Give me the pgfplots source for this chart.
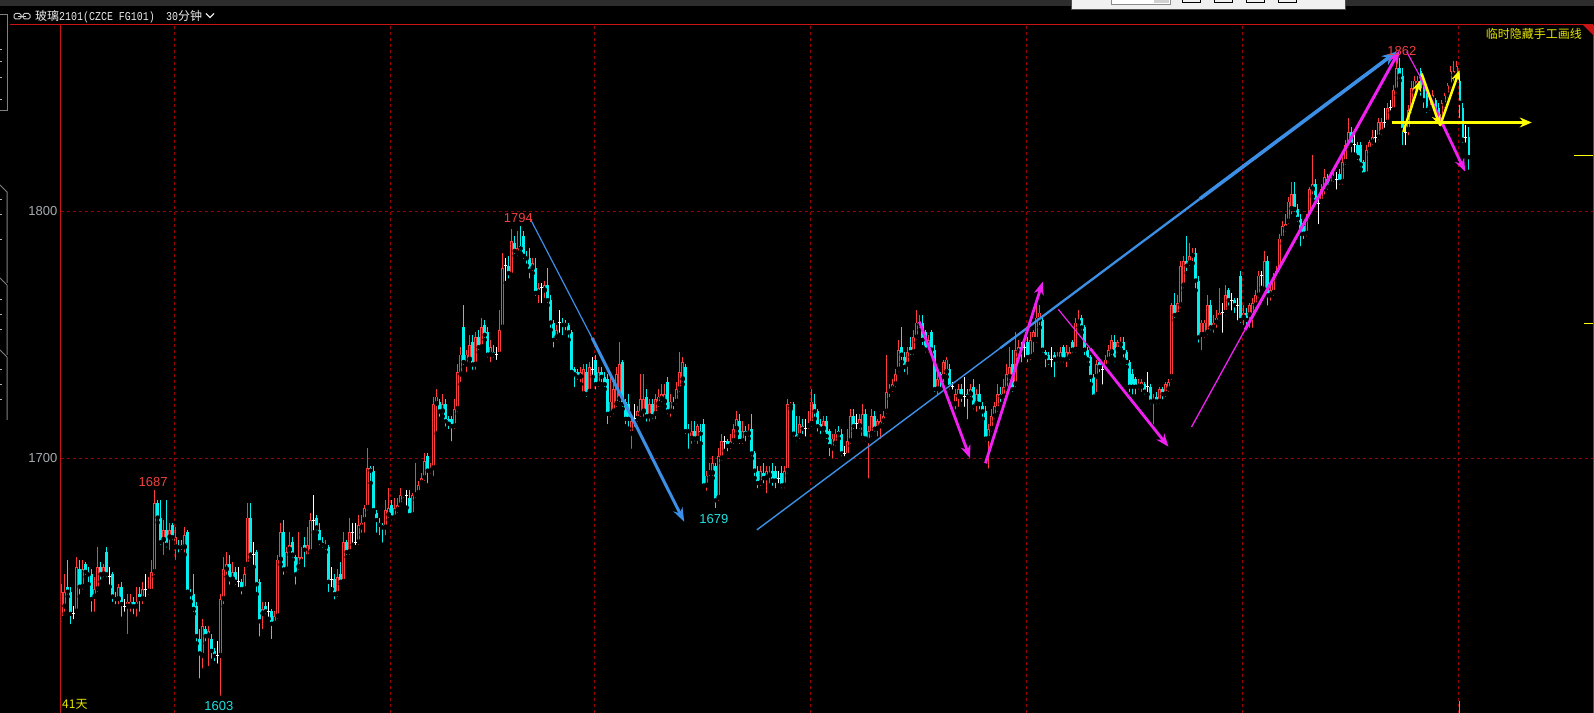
\documentclass[border=0pt]{standalone}
\usepackage{pgfplots}
\usepackage{pgfplotstable}
\pgfplotsset{compat=1.18}
\usetikzlibrary{arrows.meta}
\usepackage{fontspec}
\setmainfont{Liberation Sans}
\newfontfamily\cjk{Noto Sans CJK SC}
\newfontfamily\mono[FakeStretch=0.83]{Liberation Mono}

\definecolor{cred}{HTML}{FF3B3B}
\definecolor{ccyan}{HTML}{00F0F0}
\definecolor{gridred}{HTML}{A00000}
\definecolor{framered}{HTML}{C81414}
\definecolor{lblred}{HTML}{F04040}
\definecolor{lblcyan}{HTML}{20E0E0}
\definecolor{ablue}{HTML}{3C8FE6}
\definecolor{amag}{HTML}{F020F0}
\definecolor{ayel}{HTML}{FFFF00}
\definecolor{txtyel}{HTML}{E8E800}
\definecolor{tickgray}{HTML}{A8ACB0}
\definecolor{topgray}{HTML}{2D2D2D}

% 30-minute bars: index, open, high, low, close
\pgfplotstableread{
i o h l c
0 1635 1649 1633 1646
1 1640 1653 1637 1646
2 1648 1659 1644 1646
3 1646 1648 1632 1637
4 1637 1640 1634 1637
5 1638 1660 1637 1656
6 1655 1659 1644 1648
7 1648 1659 1646 1655
8 1657 1658 1652 1654
9 1654 1656 1649 1653
10 1653 1655 1637 1643
11 1644 1652 1637 1647
12 1647 1664 1645 1656
13 1656 1658 1650 1653
14 1653 1657 1651 1656
15 1662 1664 1651 1653
16 1652 1656 1648 1652
17 1653 1654 1641 1644
18 1644 1646 1640 1643
19 1643 1649 1640 1648
20 1648 1650 1635 1641
21 1640 1643 1637 1640
22 1640 1645 1628 1642
23 1640 1645 1637 1642
24 1642 1644 1636 1640
25 1640 1648 1635 1642
26 1645 1648 1637 1643
27 1643 1650 1640 1647
28 1647 1653 1643 1647
29 1646 1652 1644 1647
30 1646 1659 1645 1654
31 1654 1687 1652 1682
32 1682 1683 1674 1676
33 1676 1683 1664 1666
34 1667 1675 1660 1671
35 1671 1683 1663 1665
36 1668 1674 1662 1671
37 1673 1674 1666 1668
38 1664 1672 1658 1668
39 1665 1667 1661 1664
40 1665 1667 1662 1664
41 1664 1672 1661 1669
42 1670 1671 1645 1646
43 1646 1647 1642 1645
44 1645 1653 1637 1639
45 1640 1642 1625 1628
46 1627 1631 1610 1621
47 1620 1635 1614 1632
48 1631 1632 1625 1628
49 1628 1632 1615 1630
50 1627 1629 1618 1622
51 1622 1623 1617 1620
52 1620 1626 1616 1620
53 1620 1645 1603 1643
54 1643 1660 1640 1655
55 1655 1662 1652 1657
56 1657 1661 1648 1651
57 1651 1658 1650 1654
58 1654 1656 1648 1650
59 1650 1656 1647 1650
60 1650 1651 1644 1647
61 1647 1656 1646 1653
62 1657 1682 1655 1676
63 1676 1682 1659 1661
64 1661 1666 1656 1661
65 1662 1663 1645 1649
66 1650 1651 1627 1634
67 1637 1642 1630 1639
68 1640 1642 1636 1638
69 1638 1642 1635 1638
70 1638 1639 1626 1633
71 1633 1638 1632 1636
72 1636 1661 1634 1659
73 1659 1674 1657 1670
74 1670 1675 1652 1655
75 1655 1664 1653 1662
76 1663 1670 1661 1665
77 1666 1668 1659 1661
78 1660 1661 1648 1653
79 1656 1670 1654 1660
80 1658 1664 1657 1660
81 1665 1668 1655 1663
82 1660 1672 1659 1665
83 1662 1678 1661 1675
84 1675 1685 1670 1675
85 1676 1677 1670 1672
86 1671 1674 1664 1666
87 1666 1668 1663 1665
88 1664 1667 1662 1665
89 1664 1665 1645 1650
90 1651 1656 1647 1651
91 1651 1653 1642 1645
92 1645 1655 1643 1652
93 1653 1658 1649 1650
94 1650 1670 1649 1666
95 1666 1667 1660 1662
96 1662 1676 1660 1670
97 1670 1674 1665 1670
98 1666 1674 1664 1666
99 1666 1677 1664 1673
100 1672 1677 1669 1674
101 1675 1681 1669 1680
102 1680 1704 1678 1696
103 1696 1697 1690 1695
104 1695 1697 1678 1679
105 1678 1679 1669 1675
106 1674 1676 1668 1673
107 1673 1674 1665 1672
108 1672 1683 1668 1679
109 1677 1688 1675 1680
110 1681 1683 1674 1676
111 1676 1684 1674 1680
112 1679 1684 1677 1681
113 1681 1688 1680 1685
114 1685 1686 1683 1686
115 1685 1687 1680 1685
116 1684 1687 1676 1677
117 1677 1686 1676 1685
118 1685 1698 1683 1686
119 1686 1691 1685 1689
120 1690 1694 1689 1692
121 1692 1702 1690 1699
122 1701 1702 1689 1695
123 1695 1698 1693 1696
124 1696 1725 1692 1722
125 1722 1728 1710 1725
126 1723 1724 1716 1719
127 1719 1726 1717 1722
128 1722 1724 1712 1715
129 1716 1717 1711 1714
130 1716 1717 1706 1713
131 1713 1724 1711 1720
132 1720 1738 1718 1735
133 1734 1745 1730 1742
134 1753 1762 1737 1739
135 1738 1744 1734 1742
136 1740 1750 1738 1746
137 1747 1750 1735 1738
138 1738 1751 1735 1749
139 1749 1752 1743 1745
140 1745 1757 1744 1753
141 1754 1756 1748 1750
142 1751 1753 1740 1742
143 1742 1748 1738 1745
144 1743 1746 1740 1742
145 1742 1745 1739 1742
146 1742 1760 1741 1752
147 1753 1783 1752 1777
148 1778 1781 1771 1778
149 1778 1782 1772 1775
150 1774 1793 1773 1788
151 1787 1790 1782 1784
152 1783 1792 1781 1785
153 1786 1794 1783 1785
154 1790 1792 1780 1782
155 1782 1784 1778 1781
156 1781 1785 1772 1776
157 1777 1781 1775 1779
158 1777 1781 1765 1767
159 1767 1771 1762 1769
160 1769 1771 1762 1769
161 1768 1772 1764 1770
162 1770 1777 1762 1764
163 1764 1766 1752 1755
164 1755 1756 1744 1748
165 1749 1754 1747 1752
166 1755 1760 1750 1755
167 1755 1757 1749 1754
168 1755 1756 1751 1754
169 1754 1755 1748 1751
170 1751 1752 1734 1735
171 1736 1737 1728 1734
172 1735 1736 1731 1733
173 1733 1737 1730 1735
174 1726 1738 1725 1736
175 1735 1738 1724 1726
176 1727 1739 1726 1737
177 1736 1741 1733 1736
178 1740 1742 1727 1730
179 1730 1737 1728 1735
180 1735 1737 1730 1733
181 1733 1735 1728 1730
182 1732 1734 1713 1718
183 1718 1733 1716 1723
184 1719 1731 1717 1728
185 1722 1737 1720 1734
186 1724 1747 1722 1738
187 1739 1740 1720 1722
188 1723 1724 1713 1716
189 1722 1726 1712 1716
190 1710 1717 1703 1715
191 1716 1722 1712 1716
192 1716 1721 1714 1719
193 1718 1734 1716 1724
194 1719 1734 1716 1724
195 1725 1728 1714 1717
196 1717 1724 1714 1722
197 1722 1724 1715 1717
198 1718 1726 1715 1724
199 1722 1728 1720 1725
200 1724 1730 1722 1726
201 1723 1730 1721 1726
202 1731 1733 1717 1719
203 1719 1726 1716 1723
204 1723 1725 1719 1722
205 1723 1731 1721 1728
206 1728 1743 1726 1735
207 1732 1741 1730 1739
208 1737 1738 1709 1711
209 1712 1714 1703 1711
210 1708 1715 1705 1711
211 1711 1715 1706 1708
212 1708 1714 1705 1713
213 1711 1714 1706 1710
214 1714 1716 1688 1689
215 1689 1695 1686 1693
216 1694 1698 1692 1695
217 1694 1701 1692 1698
218 1697 1698 1679 1683
219 1684 1704 1682 1701
220 1700 1710 1698 1707
221 1707 1709 1703 1707
222 1707 1708 1702 1705
223 1705 1710 1703 1707
224 1707 1714 1705 1712
225 1712 1719 1710 1716
226 1715 1718 1705 1707
227 1707 1715 1705 1711
228 1711 1713 1706 1710
229 1710 1714 1708 1711
230 1712 1718 1700 1702
231 1702 1703 1692 1695
232 1695 1697 1687 1690
233 1690 1697 1688 1695
234 1694 1698 1689 1692
235 1692 1697 1685 1695
236 1693 1697 1689 1694
237 1695 1698 1688 1691
238 1695 1697 1687 1691
239 1692 1695 1689 1692
240 1694 1697 1687 1689
241 1689 1697 1687 1695
242 1695 1724 1693 1722
243 1721 1723 1720 1722
244 1722 1723 1708 1710
245 1710 1717 1706 1708
246 1709 1717 1707 1714
247 1713 1716 1709 1712
248 1712 1716 1708 1712
249 1713 1719 1711 1714
250 1714 1728 1712 1723
251 1722 1726 1716 1719
252 1719 1720 1710 1713
253 1714 1716 1709 1712
254 1712 1717 1710 1715
255 1715 1717 1707 1709
256 1711 1712 1700 1705
257 1704 1710 1699 1708
258 1706 1712 1704 1710
259 1711 1713 1708 1710
260 1710 1712 1700 1702
261 1702 1705 1700 1702
262 1701 1712 1700 1707
263 1707 1720 1705 1717
264 1717 1720 1711 1713
265 1714 1718 1711 1714
266 1713 1718 1711 1716
267 1708 1722 1706 1718
268 1718 1720 1706 1708
269 1707 1713 1691 1711
270 1710 1720 1708 1717
271 1717 1719 1710 1712
272 1712 1716 1708 1715
273 1713 1718 1707 1715
274 1715 1719 1713 1717
275 1719 1742 1717 1727
276 1727 1730 1724 1728
277 1728 1732 1726 1730
278 1730 1736 1728 1734
279 1736 1748 1734 1744
280 1745 1753 1739 1742
281 1741 1743 1734 1737
282 1738 1745 1733 1743
283 1745 1749 1741 1743
284 1743 1752 1741 1749
285 1749 1760 1747 1755
286 1754 1758 1752 1755
287 1755 1758 1745 1748
288 1751 1752 1742 1744
289 1744 1750 1742 1748
290 1751 1752 1742 1744
291 1744 1746 1726 1728
292 1728 1734 1725 1732
293 1734 1735 1728 1732
294 1733 1740 1730 1739
295 1735 1741 1733 1740
296 1736 1738 1727 1729
297 1729 1731 1727 1729
298 1722 1728 1719 1726
299 1725 1730 1720 1728
300 1728 1730 1722 1725
301 1725 1733 1720 1725
302 1726 1728 1715 1725
303 1726 1730 1724 1728
304 1729 1732 1719 1721
305 1722 1728 1718 1726
306 1726 1730 1719 1722
307 1721 1723 1716 1719
308 1719 1721 1706 1708
309 1708 1714 1695 1712
310 1712 1720 1710 1717
311 1717 1723 1715 1721
312 1720 1730 1718 1726
313 1726 1729 1722 1725
314 1725 1732 1723 1729
315 1728 1738 1726 1734
316 1733 1745 1731 1737
317 1738 1744 1726 1728
318 1730 1751 1728 1744
319 1743 1748 1741 1745
320 1745 1747 1738 1743
321 1745 1748 1740 1745
322 1747 1749 1738 1741
323 1741 1751 1739 1748
324 1748 1752 1742 1751
325 1748 1763 1746 1757
326 1756 1762 1753 1759
327 1756 1758 1742 1744
328 1743 1744 1736 1741
329 1742 1743 1737 1739
330 1740 1745 1736 1740
331 1742 1743 1732 1740
332 1740 1743 1738 1741
333 1740 1745 1738 1743
334 1745 1746 1738 1740
335 1740 1746 1736 1743
336 1741 1745 1739 1743
337 1747 1748 1742 1744
338 1744 1757 1742 1755
339 1755 1760 1753 1756
340 1757 1758 1751 1753
341 1753 1754 1741 1744
342 1744 1745 1738 1740
343 1741 1742 1730 1733
344 1733 1734 1724 1725
345 1733 1740 1726 1738
346 1739 1740 1734 1737
347 1736 1738 1729 1736
348 1737 1742 1735 1740
349 1740 1746 1738 1744
350 1743 1750 1741 1748
351 1747 1750 1738 1740
352 1744 1748 1742 1747
353 1746 1749 1744 1747
354 1747 1749 1740 1743
355 1743 1744 1737 1739
356 1739 1740 1726 1729
357 1734 1736 1725 1729
358 1732 1733 1725 1729
359 1729 1732 1727 1730
360 1729 1732 1726 1731
361 1730 1731 1725 1727
362 1729 1735 1726 1729
363 1729 1730 1721 1723
364 1723 1726 1713 1724
365 1725 1727 1721 1723
366 1723 1729 1721 1728
367 1728 1729 1723 1726
368 1726 1731 1724 1730
369 1728 1732 1726 1731
370 1733 1763 1731 1762
371 1762 1767 1756 1758
372 1758 1766 1757 1763
373 1762 1780 1760 1778
374 1770 1782 1768 1780
375 1780 1790 1775 1778
376 1779 1787 1777 1782
377 1782 1785 1779 1783
378 1783 1785 1768 1772
379 1772 1774 1746 1749
380 1750 1756 1743 1755
381 1750 1756 1748 1755
382 1751 1766 1749 1762
383 1762 1764 1751 1753
384 1753 1758 1750 1755
385 1755 1760 1752 1757
386 1757 1769 1755 1759
387 1759 1763 1750 1759
388 1759 1770 1757 1766
389 1768 1769 1761 1764
390 1764 1767 1759 1764
391 1764 1765 1758 1762
392 1762 1765 1755 1762
393 1774 1776 1754 1756
394 1757 1762 1753 1759
395 1759 1761 1753 1756
396 1758 1763 1752 1762
397 1757 1765 1752 1763
398 1762 1768 1760 1766
399 1766 1776 1764 1774
400 1774 1776 1769 1774
401 1768 1784 1767 1780
402 1780 1782 1761 1766
403 1766 1770 1763 1768
404 1767 1775 1765 1773
405 1774 1778 1772 1776
406 1776 1791 1774 1789
407 1789 1796 1787 1794
408 1793 1799 1791 1795
409 1796 1806 1794 1804
410 1801 1812 1798 1807
411 1807 1812 1799 1801
412 1801 1803 1795 1797
413 1797 1799 1785 1791
414 1794 1795 1788 1791
415 1791 1799 1789 1797
416 1798 1810 1796 1809
417 1809 1823 1806 1811
418 1811 1813 1802 1804
419 1803 1806 1794 1803
420 1804 1811 1802 1809
421 1809 1817 1806 1814
422 1813 1815 1808 1810
423 1811 1816 1810 1814
424 1813 1818 1811 1814
425 1813 1816 1808 1813
426 1815 1817 1810 1812
427 1812 1822 1810 1820
428 1820 1829 1818 1827
429 1827 1838 1825 1832
430 1832 1834 1823 1827
431 1827 1832 1823 1827
432 1827 1828 1820 1822
433 1827 1828 1817 1819
434 1820 1821 1814 1815
435 1815 1827 1814 1825
436 1825 1829 1823 1828
437 1828 1833 1826 1830
438 1830 1833 1827 1830
439 1830 1838 1828 1836
440 1832 1838 1830 1836
441 1836 1842 1833 1836
442 1836 1844 1834 1842
443 1842 1845 1840 1842
444 1841 1851 1840 1849
445 1849 1862 1847 1858
446 1858 1862 1853 1855
447 1855 1858 1826 1833
448 1832 1834 1826 1832
449 1833 1843 1830 1841
450 1841 1853 1839 1850
451 1848 1855 1846 1853
452 1851 1855 1849 1853
453 1857 1858 1846 1849
454 1851 1853 1841 1845
455 1847 1848 1839 1841
456 1842 1848 1840 1847
457 1845 1849 1842 1847
458 1845 1846 1838 1840
459 1842 1844 1835 1837
460 1838 1845 1836 1844
461 1843 1848 1841 1847
462 1847 1852 1845 1851
463 1851 1859 1849 1857
464 1855 1861 1852 1857
465 1855 1861 1853 1859
466 1853 1856 1837 1844
467 1842 1844 1827 1829
468 1830 1835 1827 1830
469 1830 1834 1816 1822
}\candles

\begin{document}
\begin{tikzpicture}
\useasboundingbox (0,0) rectangle (1594bp,713bp);
\fill[black] (0,0) rectangle (1594bp,713bp);
\begin{axis}[
    scale only axis,
    width=1532.5bp, height=688bp,
    at={(60.5bp,0bp)}, anchor=south west,
    xmin=-0.4, xmax=510.43,
    ymin=1596.85, ymax=1875.49,
    axis line style={draw=none},
    tick style={draw=none},
    xtick={37.5,109.5,177.5,249.5,321.5,393.5,465.5},
    xticklabels={},
    ytick={1700,1800},
    yticklabels={1700,1800},
    yticklabel style={text=tickgray, font=\fontsize{13bp}{15bp}\selectfont, inner sep=3bp},
    grid=major,
    major grid style={gridred, line width=1bp, dash pattern=on 3bp off 3bp},
    clip=false,
]
% wicks
\addplot[only marks, mark=none, restrict expr to domain={\thisrow{c}-\thisrow{o}}{0.5:500},
    error bars/.cd, y dir=plus, y explicit, error mark=none,
    error bar style={draw=cred, line width=0.9bp, solid}]
    table[x=i, y=l, y error plus expr=\thisrow{h}-\thisrow{l}] {\candles};
\addplot[only marks, mark=none, restrict expr to domain={\thisrow{c}-\thisrow{o}}{-500:-0.5},
    error bars/.cd, y dir=plus, y explicit, error mark=none,
    error bar style={draw=ccyan, line width=0.9bp, solid}]
    table[x=i, y=l, y error plus expr=\thisrow{h}-\thisrow{l}] {\candles};
\addplot[only marks, mark=none, restrict expr to domain={\thisrow{c}-\thisrow{o}}{-0.4:0.4},
    error bars/.cd, y dir=plus, y explicit, error mark=none,
    error bar style={draw=white, line width=0.9bp, solid}]
    table[x=i, y=l, y error plus expr=\thisrow{h}-\thisrow{l}] {\candles};
% bodies
\addplot[only marks, mark=none, restrict expr to domain={\thisrow{c}-\thisrow{o}}{0.5:500},
    error bars/.cd, y dir=plus, y explicit, error mark=none,
    error bar style={draw=cred, line width=2.5bp, solid}]
    table[x=i, y=o, y error plus expr=\thisrow{c}-\thisrow{o}] {\candles};
\addplot[only marks, mark=none, restrict expr to domain={\thisrow{c}-\thisrow{o}}{0.5:500},
    error bars/.cd, y dir=plus, y explicit, error mark=none,
    error bar style={draw=black, line width=0.8bp, solid}]
    table[x=i, y expr=\thisrow{o}+0.35, y error plus expr={max(\thisrow{c}-\thisrow{o}-0.7,0)}] {\candles};
\addplot[only marks, mark=none, restrict expr to domain={\thisrow{c}-\thisrow{o}}{-500:-0.5},
    error bars/.cd, y dir=plus, y explicit, error mark=none,
    error bar style={draw=ccyan, line width=2.5bp, solid}]
    table[x=i, y=c, y error plus expr=\thisrow{o}-\thisrow{c}] {\candles};
\addplot[only marks, mark=-, mark size=1.4bp, mark options={draw=white, line width=1bp},
    restrict expr to domain={\thisrow{c}-\thisrow{o}}{-0.4:0.4}]
    table[x=i, y=c] {\candles};

% anchor points of the hand-drawn lines and labels (drawn after the axis, on top)
\coordinate (b1) at (156.1,1797.2);
\coordinate (b2) at (176.8,1748.7);
\coordinate (b3) at (207.5,1674.3);
\coordinate (c1) at (231.7,1671.0);
\coordinate (c2) at (312.8,1744.6);
\coordinate (c3) at (379.4,1805.1);
\coordinate (c4) at (445,1864.7);
\coordinate (m1) at (285.9,1755.3);
\coordinate (m2) at (302.8,1700);
\coordinate (m3) at (307.9,1698);
\coordinate (m4) at (327,1771.5);
\coordinate (m5) at (332.2,1760.3);
\coordinate (m6) at (342.8,1744.5);
\coordinate (m7) at (368.9,1704.7);
\coordinate (m8) at (376.6,1712.7);
\coordinate (m9) at (394.4,1752);
\coordinate (m10) at (445.9,1865.1);
\coordinate (m11) at (448.3,1864.7);
\coordinate (m12) at (452.8,1854.6);
\coordinate (m13) at (467.8,1816.1);
\coordinate (y1) at (447.2,1832.2);
\coordinate (y2) at (452.8,1853.1);
\coordinate (y3) at (453.3,1855.8);
\coordinate (y4) at (459.4,1834.6);
\coordinate (y5) at (465.9,1857.2);
\coordinate (y6) at (443.3,1836);
\coordinate (y7) at (490,1836);
\coordinate (l1) at (152.2,1797.3);
\coordinate (l2) at (30.5,1690.3);
\coordinate (l3) at (52.4,1599.7);
\coordinate (l4) at (217.4,1675.5);
\coordinate (l5) at (446.7,1865.1);
\end{axis}

\draw[ablue, line width=1.2bp] (b1) -- (b2);
\draw[ablue, line width=3bp, -{Stealth[length=14bp,width=10bp]}] (b2) -- (b3);
\draw[ablue, line width=1.4bp] (c1) -- (c2);
\draw[ablue, line width=2.3bp] (c2) -- (c3);
\draw[ablue, line width=3.6bp, -{Stealth[length=15bp,width=11bp]}] (c3) -- (c4);

\draw[amag, line width=2.8bp, -{Stealth[length=13bp,width=10bp]}] (m1) -- (m2);
\draw[amag, line width=2.8bp, -{Stealth[length=13bp,width=10bp]}] (m3) -- (m4);
\draw[amag, line width=1.2bp] (m5) -- (m6);
\draw[amag, line width=2.8bp, -{Stealth[length=13bp,width=10bp]}] (m6) -- (m7);
\draw[amag, line width=1.3bp] (m8) -- (m9);
\draw[amag, line width=3bp, -{Stealth[length=13bp,width=10bp]}] (m9) -- (m10);
\draw[amag, line width=1.2bp] (m11) -- (m12);
\draw[amag, line width=2.8bp, -{Stealth[length=13bp,width=10bp]}] (m12) -- (m13);

\draw[ayel, line width=2.5bp, -{Stealth[length=11bp,width=9bp]}] (y1) -- (y2);
\draw[ayel, line width=2.5bp, -{Stealth[length=11bp,width=9bp]}] (y3) -- (y4);
\draw[ayel, line width=2.5bp, -{Stealth[length=11bp,width=9bp]}] (y4) -- (y5);
\draw[ayel, line width=2.5bp, -{Stealth[length=12bp,width=10bp]}] (y6) -- (y7);

\node[text=lblred, font=\fontsize{13bp}{15bp}\selectfont] at (l1) {1794};
\node[text=lblred, font=\fontsize{13bp}{15bp}\selectfont] at (l2) {1687};
\node[text=lblcyan, font=\fontsize{13bp}{15bp}\selectfont] at (l3) {1603};
\node[text=lblcyan, font=\fontsize{13bp}{15bp}\selectfont] at (l4) {1679};
\node[text=lblred, font=\fontsize{13bp}{15bp}\selectfont] at (l5) {1862};

% window chrome, in pixel coordinates
\begin{scope}[x=1bp, y=-1bp, yshift=713bp]
\fill[topgray] (0,0) rectangle (1594,6);
\filldraw[fill=white!94!black, draw=black!70, line width=0.8bp] (1071.5,-1) rectangle (1345.5,9);
\filldraw[fill=white, draw=black!45, line width=0.8bp] (1111,-1) rectangle (1170,4.5);
\fill[black!18] (1154,-1) rectangle (1169,3.5);
\foreach \bx in {1182,1214,1246,1278} {\draw[black, line width=0.8bp] (\bx,-1) rectangle (\bx+18,2.7);}
\draw[white!80!black, line width=1bp, rounded corners=1.5bp] (14,13.5) rectangle (21,19);
\draw[white!80!black, line width=1bp, rounded corners=1.5bp] (23,13.5) rectangle (30,19);
\draw[white!80!black, line width=1bp] (18,16.25) -- (26,16.25);
\node[anchor=base west, inner sep=0, text=white!92!black] at (35,21)
  {{\cjk\fontsize{12bp}{14bp}\selectfont 玻璃}{\mono\fontsize{12bp}{14bp}\selectfont 2101(CZCE FG101)}};
\node[anchor=base west, inner sep=0, text=white!92!black] at (166,21)
  {{\mono\fontsize{12bp}{14bp}\selectfont 30}{\cjk\fontsize{12bp}{14bp}\selectfont 分钟}};
\draw[white!90!black, line width=1.3bp] (206,13.5) -- (210,17.5) -- (214,13.5);
% left side panel
\draw[gray, line width=1bp] (-1,14.5) -- (7,14.5) -- (7,111) -- (-1,111);
\draw[gray, line width=1bp] (0,185) -- (7,192) -- (7,283);
\draw[gray, line width=1bp] (0,278) -- (7,285) -- (7,355);
\draw[gray, line width=1bp] (0,350) -- (7,357) -- (7,420);
\foreach \ty in {50,62,78,100,200,215,240,300,315,330,370,385,400} {\draw[white!70!black, line width=1bp] (0,\ty) -- (2,\ty);}
% frame
\draw[framered, line width=1bp] (10,25) -- (1593,25);
\draw[framered, line width=1.2bp] (60.5,25) -- (60.5,713);
\draw[framered, line width=1bp] (1593,25) -- (1593,713);
\fill[framered] (1583,25) -- (1593,25) -- (1593,35) -- cycle;
\draw[ayel, line width=1bp] (1574,156) -- (1593,156);
\draw[ayel, line width=1bp] (1584,324) -- (1593,324);
\draw[gray!80, line width=1bp] (1459,701) -- (1459,713);
\node[anchor=east, inner sep=0, text=txtyel, font=\cjk\fontsize{12bp}{14bp}\selectfont] at (1582,34) {临时隐藏手工画线};
\node[anchor=west, inner sep=0, text=txtyel, font=\cjk\fontsize{12bp}{14bp}\selectfont] at (62,704) {41天};
\end{scope}
\end{tikzpicture}
\end{document}
